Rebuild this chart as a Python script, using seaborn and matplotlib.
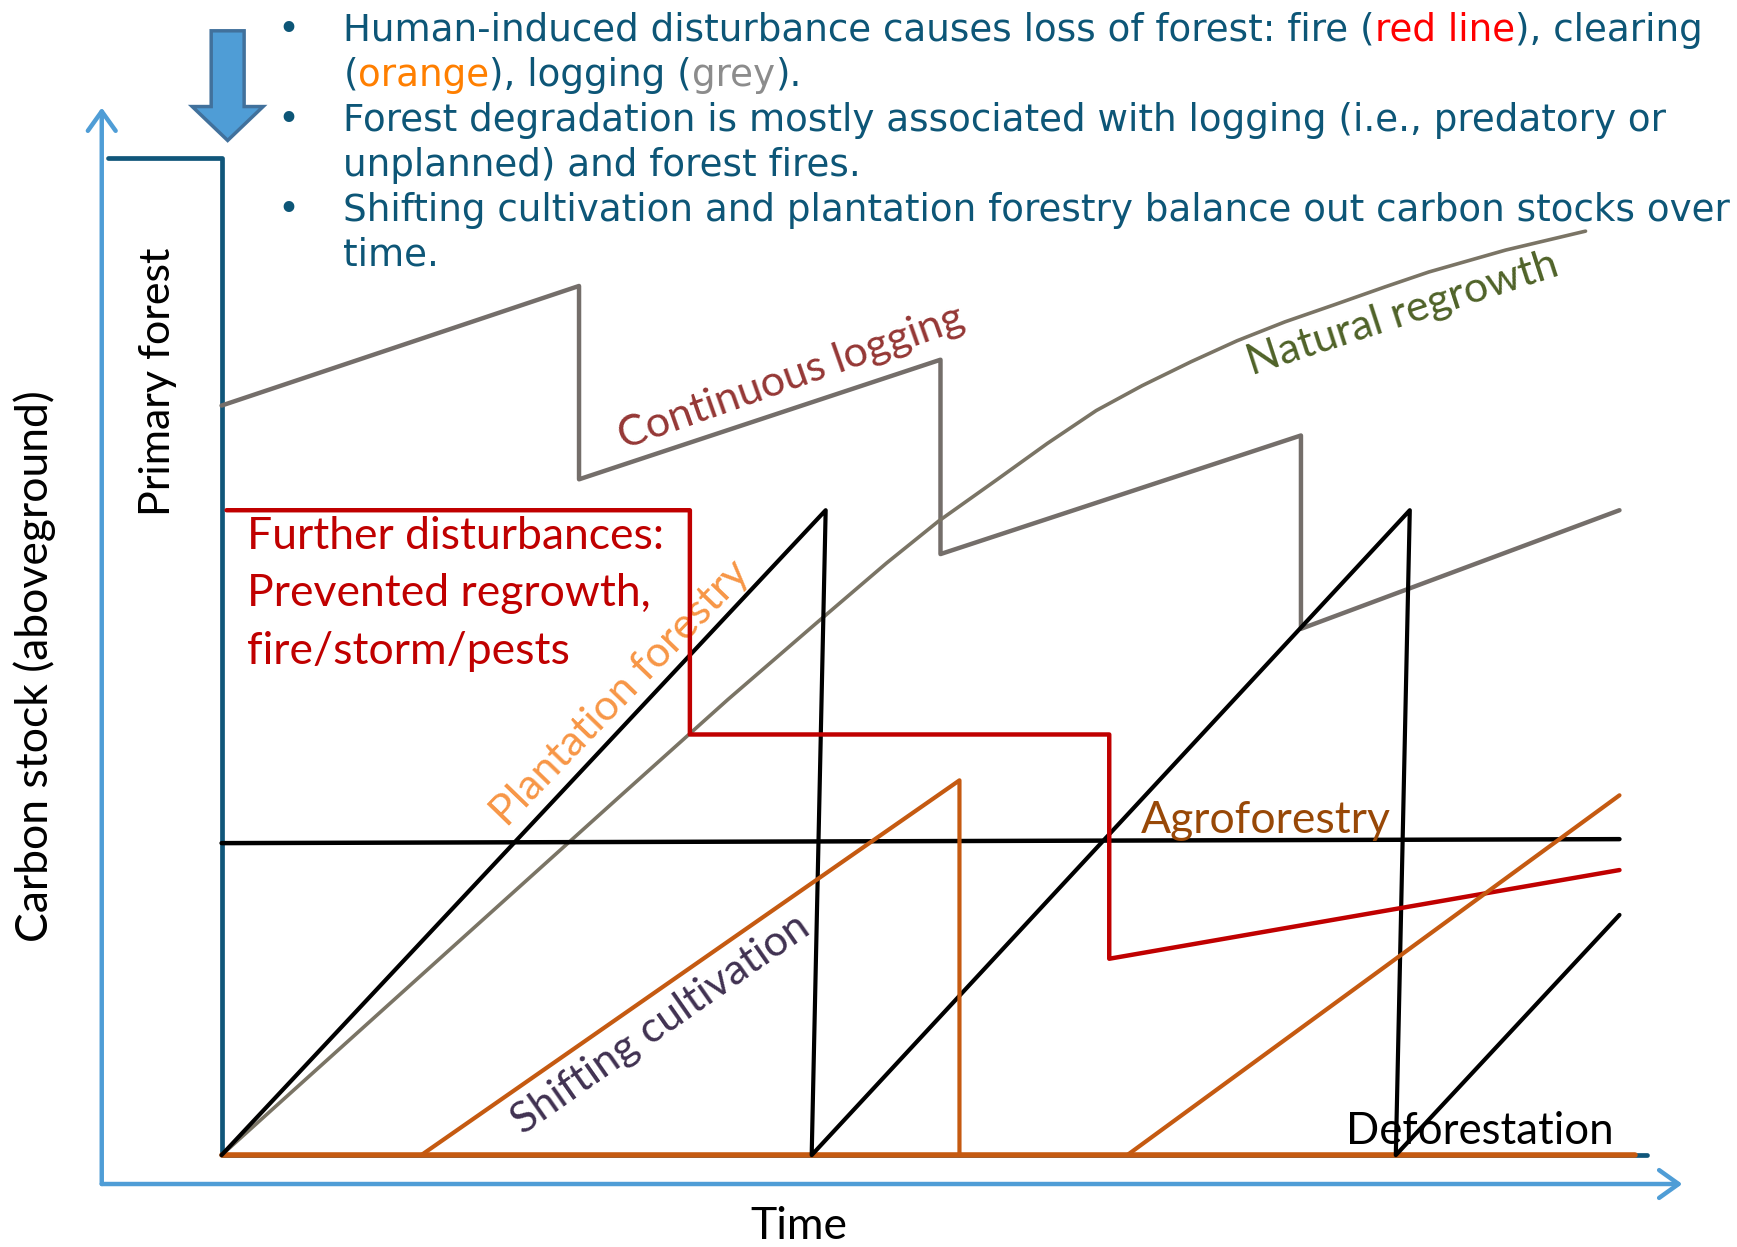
import matplotlib
matplotlib.use("Agg")
import matplotlib.pyplot as plt
import seaborn as sns
from matplotlib.patches import FancyArrow

# Time (x) and carbon stock (y) values, arbitrary units
primary_t = [-11.4, 0, 0, 142.8]
primary_c = [100, 100, 0, 0]

logging_t = [0, 35.8, 35.8, 72.0, 72.0, 108.1, 108.1, 140.0]
logging_c = [75.2, 87.2, 67.8, 79.8, 60.3, 72.2, 52.8, 64.7]

regrowth_t = [0, 13.3, 26.6, 39.9, 50.7, 59.6, 66.6, 71.8, 77.7, 82.7, 87.6,
              92.2, 97.1, 101.7, 106.5, 111.4, 116.5, 120.9, 128.6, 136.6]
regrowth_c = [0, 12.0, 24.0, 36.0, 45.7, 53.4, 59.4, 63.6, 67.8, 71.4, 74.7,
              77.2, 79.6, 81.7, 83.6, 85.3, 87.1, 88.6, 90.8, 92.7]

plantation_t = [0, 60.5, 59.1, 119.0, 117.6, 140.0]
plantation_c = [0, 64.7, 0, 64.7, 0, 24.1]

agro_t = [0, 140.0]
agro_c = [31.3, 31.7]

fire_t = [0.5, 46.9, 46.9, 88.9, 88.9, 140.0]
fire_c = [64.7, 64.7, 42.2, 42.2, 19.7, 28.6]

clearing_t = [0, 141.6]
clearing_c = [0, 0]
shifting1_t = [20.0, 73.9, 73.9]
shifting1_c = [0, 37.6, 0]
shifting2_t = [90.7, 140.0]
shifting2_c = [0, 36.1]

bullet_lines = [
    [("Human-induced disturbance causes loss of forest: fire (", "#0D5677"),
     ("red line", "#FF0000"), ("), clearing", "#0D5677")],
    [("(", "#0D5677"), ("orange", "#FF7F00"), ("), logging (", "#0D5677"),
     ("grey", "#8C8C8C"), (").", "#0D5677")],
    [("Forest degradation is mostly associated with logging (i.e., predatory or", "#0D5677")],
    [("unplanned) and forest fires.", "#0D5677")],
    [("Shifting cultivation and plantation forestry balance out carbon stocks over", "#0D5677")],
    [("time.", "#0D5677")],
]
bullet_marks = [True, False, True, False, True, False]

disturb_lines = ["Further disturbances:", "Prevented regrowth,", "fire/storm/pests"]

AXIS_BLUE = "#4F9DD6"
BOX_BLUE = "#10567A"

sns.set_theme(style="white")
plt.rcParams["font.family"] = ["Lato", "DejaVu Sans"]

fig = plt.figure(figsize=(17.37, 12.47), dpi=100)
ax = fig.add_axes([0, 0, 1, 1])


def draw(t, c, color, lw, z=2):
    sns.lineplot(x=t, y=c, sort=False, estimator=None, color=color,
                 linewidth=lw, ax=ax, zorder=z, legend=False)


draw(primary_t, primary_c, BOX_BLUE, 3.4, z=2)
draw(logging_t, logging_c, "#746E6A", 3.2, z=3)
draw(regrowth_t, regrowth_c, "#7A7465", 2.6, z=3)
draw(plantation_t, plantation_c, "#000000", 3.0, z=4)
draw(agro_t, agro_c, "#000000", 3.2, z=4)
draw(fire_t, fire_c, "#C00000", 3.2, z=5)
draw(clearing_t, clearing_c, "#C55A11", 4.0, z=3)
draw(shifting1_t, shifting1_c, "#C55A11", 3.0, z=5)
draw(shifting2_t, shifting2_c, "#C55A11", 3.0, z=5)

ax.set_xlim(-22.19, 151.77)
ax.set_ylim(-9.22, 115.89)
ax.axis("off")

# axis arrows
arrow_kw = dict(arrowstyle="->,head_length=0.7,head_width=0.5", lw=3.2,
                color=AXIS_BLUE, mutation_scale=20, shrinkA=0, shrinkB=0)
ax.annotate("", xy=(-12.0, 105.1), xytext=(-12.0, -2.9), arrowprops=arrow_kw)
ax.annotate("", xy=(146.3, -2.9), xytext=(-12.0, -2.9), arrowprops=arrow_kw)

# big disturbance arrow
ax.add_patch(FancyArrow(0.61, 112.8, 0, -11.0, width=3.3, head_width=7.1,
                        head_length=3.4, length_includes_head=True,
                        fc="#4F9DD6", ec="#41719C", lw=2.5, zorder=6))

# labels
ax.text(-6.4, 77.6, "Primary forest", rotation=90, ha="center", va="center",
        fontsize=31, color="black")
ax.text(-18.7, 49.1, "Carbon stock (aboveground)", rotation=90, ha="center",
        va="center", fontsize=32, color="black")
ax.text(57.8, -7.2, "Time", ha="center", va="center", fontsize=32, color="black")
ax.text(126.0, 2.4, "Deforestation", ha="center", va="center", fontsize=31.5,
        color="black", zorder=7)
ax.text(104.6, 33.6, "Agroforestry", ha="center", va="center", fontsize=32,
        color="#984807", zorder=7)
ax.text(57.1, 78.0, "Continuous logging", rotation=19.5, ha="center",
        va="center", fontsize=31, color="#953735", rotation_mode="anchor")
ax.text(118.3, 84.4, "Natural regrowth", rotation=18, ha="center",
        va="center", fontsize=31, color="#4F6228", rotation_mode="anchor")
ax.text(40.0, 46.3, "Plantation forestry", rotation=46, ha="center",
        va="center", fontsize=31, color="#F79646", rotation_mode="anchor")
ax.text(44.0, 13.1, "Shifting cultivation", rotation=35, ha="center",
        va="center", fontsize=31, color="#403151", rotation_mode="anchor")

for base, s in zip([60.8, 55.1, 49.3], disturb_lines):
    ax.text(2.5, base, s, ha="left", va="baseline", fontsize=32,
            color="#C00000", zorder=7)

# bullet text (Verdana-like)
bullet_font = ["DejaVu Sans"]
bullet_size = 26.8
bullet_base = [111.8, 107.3, 102.75, 98.24, 93.73, 89.22]
for base, parts, mark in zip(bullet_base, bullet_lines, bullet_marks):
    if mark:
        ax.text(6.7, base, "\u2022", ha="center", va="baseline",
                fontsize=bullet_size, color="#0D5677", family=bullet_font)
    txt = ax.text(12.2, base, parts[0][0], ha="left", va="baseline",
                  fontsize=bullet_size, color=parts[0][1], family=bullet_font)
    for s, col in parts[1:]:
        txt = ax.annotate(s, xy=(1, 0), xycoords=txt, ha="left", va="bottom",
                          fontsize=bullet_size, color=col, family=bullet_font)

fig.savefig("out.png", dpi=100)
